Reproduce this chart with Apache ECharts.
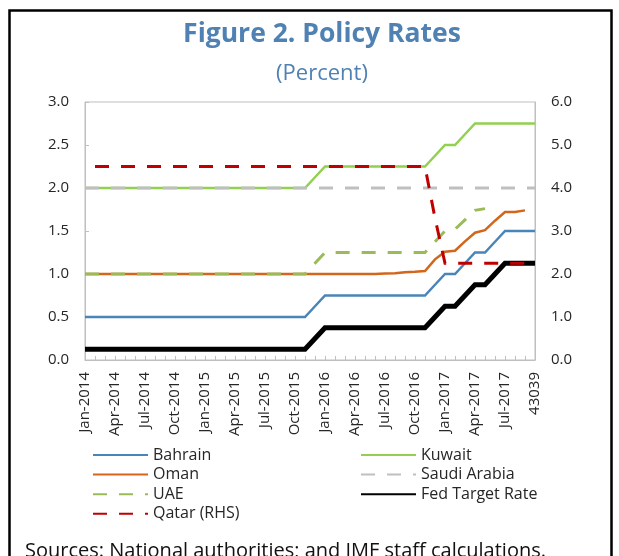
<!DOCTYPE html>
<html>
<head>
<meta charset="utf-8">
<script src="https://cdn.jsdelivr.net/npm/echarts@6/dist/echarts.min.js"></script>
<style>
  html, body { margin: 0; padding: 0; background: #fff; }
  #chart { width: 619px; height: 556px; }
</style>
</head>
<body>
<div id="chart"></div>
<script>
// monthly categories, Jan-2014 .. Oct-2017 (Excel showed the last one as a serial date)
const months = [
  'Jan-2014', 'Feb-2014', 'Mar-2014', 'Apr-2014', 'May-2014', 'Jun-2014',
  'Jul-2014', 'Aug-2014', 'Sep-2014', 'Oct-2014', 'Nov-2014', 'Dec-2014',
  'Jan-2015', 'Feb-2015', 'Mar-2015', 'Apr-2015', 'May-2015', 'Jun-2015',
  'Jul-2015', 'Aug-2015', 'Sep-2015', 'Oct-2015', 'Nov-2015', 'Dec-2015',
  'Jan-2016', 'Feb-2016', 'Mar-2016', 'Apr-2016', 'May-2016', 'Jun-2016',
  'Jul-2016', 'Aug-2016', 'Sep-2016', 'Oct-2016', 'Nov-2016', 'Dec-2016',
  'Jan-2017', 'Feb-2017', 'Mar-2017', 'Apr-2017', 'May-2017', 'Jun-2017',
  'Jul-2017', 'Aug-2017', 'Sep-2017', '43039'
]

const bahrain = [
  0.5, 0.5, 0.5, 0.5, 0.5, 0.5, 0.5, 0.5, 0.5, 0.5, 0.5, 0.5,
  0.5, 0.5, 0.5, 0.5, 0.5, 0.5, 0.5, 0.5, 0.5, 0.5, 0.5, 0.625,
  0.75, 0.75, 0.75, 0.75, 0.75, 0.75, 0.75, 0.75, 0.75, 0.75, 0.75, 0.875,
  1.0, 1.0, 1.125, 1.25, 1.25, 1.375, 1.5, 1.5, 1.5, 1.5
]
const kuwait = [
  2.0, 2.0, 2.0, 2.0, 2.0, 2.0, 2.0, 2.0, 2.0, 2.0, 2.0, 2.0,
  2.0, 2.0, 2.0, 2.0, 2.0, 2.0, 2.0, 2.0, 2.0, 2.0, 2.0, 2.125,
  2.25, 2.25, 2.25, 2.25, 2.25, 2.25, 2.25, 2.25, 2.25, 2.25, 2.25, 2.375,
  2.5, 2.5, 2.625, 2.75, 2.75, 2.75, 2.75, 2.75, 2.75, 2.75
]
const oman = [
  1.0, 1.0, 1.0, 1.0, 1.0, 1.0, 1.0, 1.0, 1.0, 1.0, 1.0, 1.0,
  1.0, 1.0, 1.0, 1.0, 1.0, 1.0, 1.0, 1.0, 1.0, 1.0, 1.0, 1.0,
  1.0, 1.0, 1.0, 1.0, 1.0, 1.0, 1.005, 1.01, 1.02, 1.025, 1.035, 1.17,
  1.26, 1.27, 1.38, 1.48, 1.51, 1.62, 1.72, 1.72, 1.74, null
]
const saudi = [
  2.0, 2.0, 2.0, 2.0, 2.0, 2.0, 2.0, 2.0, 2.0, 2.0, 2.0, 2.0,
  2.0, 2.0, 2.0, 2.0, 2.0, 2.0, 2.0, 2.0, 2.0, 2.0, 2.0, 2.0,
  2.0, 2.0, 2.0, 2.0, 2.0, 2.0, 2.0, 2.0, 2.0, 2.0, 2.0, 2.0,
  2.0, 2.0, 2.0, 2.0, 2.0, 2.0, 2.0, 2.0, 2.0, 2.0
]
const uae = [
  1.0, 1.0, 1.0, 1.0, 1.0, 1.0, 1.0, 1.0, 1.0, 1.0, 1.0, 1.0,
  1.0, 1.0, 1.0, 1.0, 1.0, 1.0, 1.0, 1.0, 1.0, 1.0, 1.0, 1.125,
  1.25, 1.25, 1.25, 1.25, 1.25, 1.25, 1.25, 1.25, 1.25, 1.25, 1.25, 1.375,
  1.5, 1.52, 1.63, 1.74, 1.76, null, null, null, null, null
]
const fedRate = [
  0.125, 0.125, 0.125, 0.125, 0.125, 0.125, 0.125, 0.125, 0.125, 0.125, 0.125, 0.125,
  0.125, 0.125, 0.125, 0.125, 0.125, 0.125, 0.125, 0.125, 0.125, 0.125, 0.125, 0.25,
  0.375, 0.375, 0.375, 0.375, 0.375, 0.375, 0.375, 0.375, 0.375, 0.375, 0.375, 0.5,
  0.625, 0.625, 0.75, 0.875, 0.875, 1.0, 1.125, 1.125, 1.125, 1.125
]
// right hand scale
const qatar = [
  null, 4.5, 4.5, 4.5, 4.5, 4.5, 4.5, 4.5, 4.5, 4.5, 4.5, 4.5,
  4.5, 4.5, 4.5, 4.5, 4.5, 4.5, 4.5, 4.5, 4.5, 4.5, 4.5, 4.5,
  4.5, 4.5, 4.5, 4.5, 4.5, 4.5, 4.5, 4.5, 4.5, 4.5, 4.5, 3.3,
  2.25, 2.25, 2.25, 2.25, 2.25, 2.25, 2.25, 2.25, 2.25, 2.25
]

const FONT = '"Open Sans", sans-serif'
const TEXT_COLOR = '#262626'
const AXIS_GREY = '#BFBFBF'

function line(name, data, color, width, dashed, yAxisIndex) {
  return {
    name: name,
    type: 'line',
    yAxisIndex: yAxisIndex || 0,
    data: data,
    symbol: 'none',
    silent: true,
    animation: false,
    lineStyle: {
      color: color,
      width: width,
      type: dashed ? [14, 12] : 'solid',
      cap: 'butt',
      join: 'miter'
    },
    itemStyle: { color: color }
  }
}

function legendBox(left, names) {
  return {
    orient: 'vertical',
    left: left,
    top: 447,
    padding: 0,
    itemWidth: 55,
    itemHeight: 14,
    itemGap: 3.6,
    // hide the marker dot, keep the line sample
    itemStyle: { opacity: 0 },
    textStyle: { fontFamily: FONT, fontSize: 16, color: TEXT_COLOR },
    data: names
  }
}

const chart = echarts.init(document.getElementById('chart'))
chart.setOption({
  animation: false,
  textStyle: { fontFamily: FONT },
  graphic: [
    {
      type: 'rect',
      shape: { x: 9.5, y: 10.5, width: 602, height: 600 },
      style: { fill: 'none', stroke: '#000', lineWidth: 2.5 },
      silent: true
    },
    {
      type: 'text',
      x: 322,
      y: 34,
      style: {
        text: 'Figure 2. Policy Rates',
        fontFamily: FONT,
        fontWeight: 'bold',
        fontSize: 26.5,
        fill: '#4F81B3',
        textAlign: 'center',
        textVerticalAlign: 'middle'
      }
    },
    {
      type: 'text',
      x: 322,
      y: 74,
      style: {
        text: '(Percent)',
        fontFamily: FONT,
        fontSize: 22,
        fill: '#4F81B3',
        textAlign: 'center',
        textVerticalAlign: 'middle'
      }
    },
    {
      type: 'text',
      x: 25,
      y: 551,
      style: {
        text: 'Sources: National authorities; and IMF staff calculations.',
        fontFamily: FONT,
        fontSize: 20,
        fill: '#111',
        textAlign: 'left',
        textVerticalAlign: 'middle'
      }
    }
  ],
  legend: [
    legendBox(92, ['Bahrain', 'Oman', 'UAE', 'Qatar (RHS)']),
    legendBox(360, ['Kuwait', 'Saudi Arabia', 'Fed Target Rate'])
  ],
  grid: {
    left: 85,
    top: 102,
    right: 84,
    bottom: 196,
    show: true,
    borderColor: AXIS_GREY,
    borderWidth: 1
  },
  xAxis: {
    type: 'category',
    data: months,
    boundaryGap: false,
    axisLine: { show: true, lineStyle: { color: AXIS_GREY, width: 1 } },
    axisTick: { show: true, inside: true, length: 4, interval: 0, lineStyle: { color: AXIS_GREY } },
    axisLabel: {
      interval: 2,
      rotate: 90,
      margin: 12,
      fontFamily: FONT,
      fontSize: 15,
      color: TEXT_COLOR
    },
    splitLine: { show: false }
  },
  yAxis: [
    {
      type: 'value',
      min: 0,
      max: 3,
      interval: 0.5,
      axisLine: { show: true, lineStyle: { color: AXIS_GREY } },
      axisTick: { show: true, inside: true, length: 4, lineStyle: { color: AXIS_GREY } },
      axisLabel: {
        margin: 16,
        fontFamily: FONT,
        fontSize: 15,
        color: TEXT_COLOR,
        formatter: v => v.toFixed(1)
      },
      splitLine: { show: false }
    },
    {
      type: 'value',
      min: 0,
      max: 6,
      interval: 1,
      position: 'right',
      axisLine: { show: true, lineStyle: { color: AXIS_GREY } },
      axisTick: { show: false },
      axisLabel: {
        margin: 16,
        fontFamily: FONT,
        fontSize: 15,
        color: TEXT_COLOR,
        formatter: v => v.toFixed(1)
      },
      splitLine: { show: false }
    }
  ],
  series: [
    line('Bahrain', bahrain, '#4A85B8', 2.5, false),
    line('Kuwait', kuwait, '#92D050', 2.5, false),
    line('Oman', oman, '#D2661C', 2.5, false),
    line('Saudi Arabia', saudi, '#BFBFBF', 3, true),
    line('UAE', uae, '#9BBB59', 3, true),
    line('Fed Target Rate', fedRate, '#000000', 5, false),
    line('Qatar (RHS)', qatar, '#C00000', 3, true, 1)
  ]
})
</script>
</body>
</html>
